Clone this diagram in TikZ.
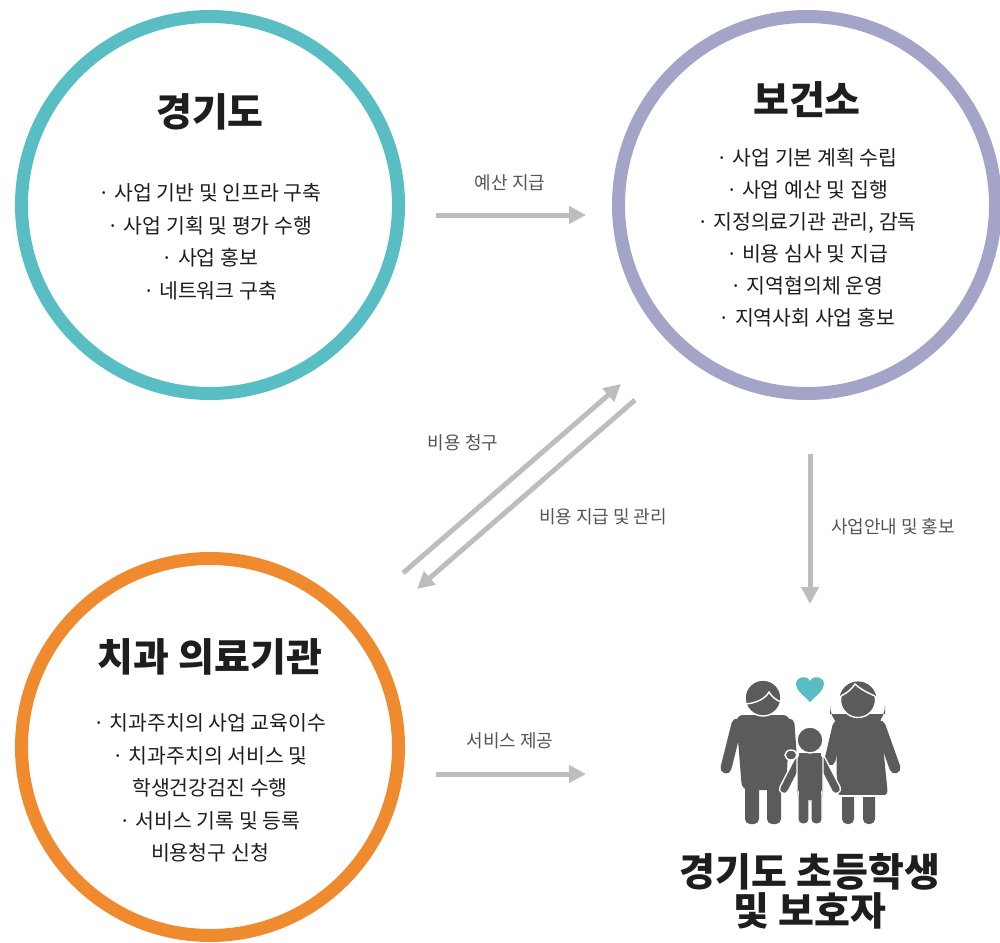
\documentclass[tikz,border=0pt]{standalone}
\usepackage{fontspec}
\setmainfont{Noto Sans CJK KR}
\usetikzlibrary{arrows.meta}
\definecolor{tealc}{HTML}{58BEC4}
\definecolor{purpc}{HTML}{A4A4C8}
\definecolor{orngc}{HTML}{EF8A2F}
\definecolor{arrc}{HTML}{BDBDBD}
\definecolor{txtc}{HTML}{1E1E1E}
\definecolor{lblc}{HTML}{555555}
\definecolor{iconc}{HTML}{5B5B5D}
\tikzset{
  ring/.style={circle, line width=13pt, minimum size=377pt, inner sep=0pt},
  titletext/.style={text=txtc, font=\bfseries\fontsize{39}{42}\selectfont},
  bullettext/.style={text=txtc, align=center, inner sep=0pt, font=\fontsize{20.5}{32.5}\selectfont},
  lbltext/.style={text=lblc, inner sep=0pt, font=\fontsize{18}{22}\selectfont},
  flow/.style={draw=arrc, line width=5pt, -{Triangle[length=17pt,width=17pt]}, shorten >=0pt},
  fig/.style={fill=iconc, draw=white, line width=1.4pt},
  limb/.style={draw=iconc, line cap=round},
}
\begin{document}
\begin{tikzpicture}[x=1pt,y=-1pt]
\useasboundingbox (0,0) rectangle (1000,942);
% circles
\node (gg) [ring, draw=tealc] at (210,205) {};
\node (bg) [ring, draw=purpc] at (807,205) {};
\node (dc) [ring, draw=orngc] at (210,747) {};
% texts in circles
\node (ggt) [titletext] at (210,112) {경기도};
\node (ggl) [bullettext] at (210,242) {· 사업 기반 및 인프라 구축\\· 사업 기획 및 평가 수행\\· 사업 홍보\\· 네트워크 구축};
\node (bgt) [titletext] at (807,100) {보건소};
\node (bgl) [bullettext, font=\fontsize{20.5}{32}\selectfont] at (807,238) {· 사업 기본 계획 수립\\· 사업 예산 및 집행\\· 지정의료기관 관리, 감독\\· 비용 심사 및 지급\\· 지역협의체 운영\\· 지역사회 사업 홍보};
\node (dct) [titletext] at (210,657) {치과 의료기관};
\node (dcl) [bullettext] at (210,788) {· 치과주치의 사업 교육이수\\· 치과주치의 서비스 및\\학생건강검진 수행\\· 서비스 기록 및 등록\\비용청구 신청};
% family title
\node (fam) [titletext, align=center, font=\bfseries\fontsize{39}{39}\selectfont] at (810,891) {경기도 초등학생\\및 보호자};
% arrow coordinates
\coordinate (a1s) at (436,215); \coordinate (a1e) at (586,215);
\coordinate (a2s) at (403,573); \coordinate (a2e) at (621,384);
\coordinate (a3s) at (635,400); \coordinate (a3e) at (417,589);
\coordinate (a4s) at (810,454); \coordinate (a4e) at (810,604);
\coordinate (a5s) at (436,774); \coordinate (a5e) at (586,774);
\draw[flow] (a1s) -- (a1e);
\draw[flow] (a2s) -- (a2e);
\draw[flow] (a3s) -- (a3e);
\draw[flow] (a4s) -- (a4e);
\draw[flow] (a5s) -- (a5e);
% labels
\node (l1) [lbltext] at (510,183) {예산 지급};
\node (l2) [lbltext] at (463,443) {비용 청구};
\node (l3) [lbltext] at (603,517) {비용 지급 및 관리};
\node (l4) [lbltext] at (893,527) {사업안내 및 홍보};
\node (l5) [lbltext] at (510,741) {서비스 제공};
% ---- family icon ----
% heart
\fill[tealc] (810,702) .. controls (803,695) and (796,690) .. (796,684)
  .. controls (796,677) and (806,674) .. (810,681)
  .. controls (814,674) and (824,677) .. (824,684)
  .. controls (824,690) and (817,695) .. (810,702) -- cycle;
% father
\draw[limb, line width=11pt] (737,724) -- (726,768);
\draw[limb, line width=11pt] (789,724) -- (791,752);
\fill[iconc, rounded corners=7pt] (736,715) -- (790,715) -- (786,790) -- (742,790) -- cycle;
\fill[iconc, rounded corners=5pt] (745,770) rectangle (759,824);
\fill[iconc, rounded corners=5pt] (767,770) rectangle (781,824);
\draw[fig] (763,698) circle (18);
\draw[white, line width=1.4pt] (746,704) .. controls (756,703) and (765,699) .. (769,692) .. controls (772,697) and (776,700) .. (781,702);
% mother
\draw[limb, line width=11pt] (880,726) -- (895,768);
\draw[limb, line width=11pt] (838,726) -- (830,760);
\fill[iconc, rounded corners=6pt] (836,715) -- (880,715) -- (888,796) -- (837,796) -- cycle;
\fill[iconc, rounded corners=5pt] (842,785) rectangle (854,824);
\fill[iconc, rounded corners=5pt] (863,785) rectangle (875,824);
\draw[white, line width=1.4pt] (836,796) -- (889,796);
\fill[iconc] (830,714) -- (830,705) arc[start angle=180, end angle=0, radius=27.5] -- (885,714) -- cycle;
\draw[fig] (858,700) circle (17.5);
\begin{scope}
  \clip (858,700) circle (18.6);
  \fill[iconc] (838,697) .. controls (846,693) and (852,689) .. (855,684) .. controls (860,689) and (868,693) .. (878,697) -- (878,678) -- (838,678) -- cycle;
\end{scope}
\draw[white, line width=1.4pt] (841,696) .. controls (847,693) and (852,689) .. (855,684) .. controls (860,689) and (868,693) .. (875,696);
% child
\draw[white, line width=10.5pt, line cap=round] (799,760) -- (784,789);
\draw[white, line width=10.5pt, line cap=round] (821,760) -- (836,789);
\draw[limb, line width=7.5pt] (799,760) -- (784,789);
\draw[limb, line width=7.5pt] (821,760) -- (836,789);
\draw[fig, rounded corners=5pt] (797,753) rectangle (823,802);
\draw[fig, rounded corners=4pt] (798,790) rectangle (809,824);
\draw[fig, rounded corners=4pt] (811,790) rectangle (822,824);
\fill[iconc] (799,753) rectangle (821,800);
\draw[fig] (810,740) circle (13);
% father's hand on child's shoulder
\draw[fig] (791,755) ellipse (6 and 5);
\end{tikzpicture}
\end{document}
